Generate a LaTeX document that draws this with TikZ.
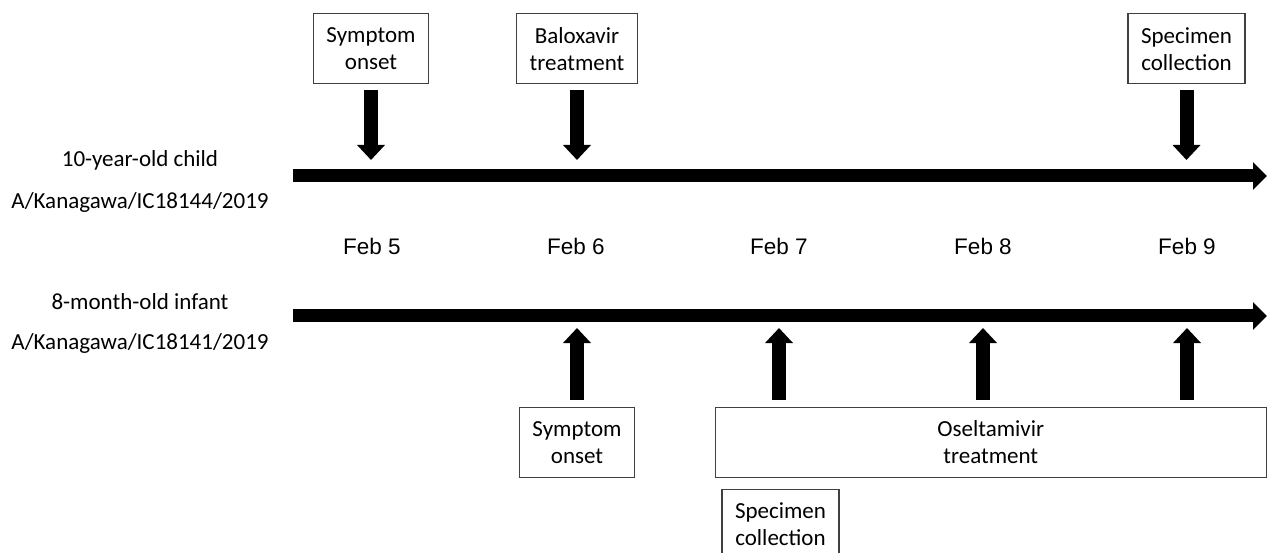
\documentclass[tikz,border=0pt]{standalone}
\usepackage{fontspec}
\setmainfont{Carlito}
\newfontfamily\datefont{Liberation Sans}
\usetikzlibrary{arrows.meta}
\definecolor{boxline}{HTML}{404040}
\begin{document}
\begin{tikzpicture}[x=1pt,y=-1pt,
  evbox/.style={draw=boxline, line width=1.5pt, minimum height=70pt, inner xsep=13pt, inner ysep=4pt, align=center, font=\fontsize{23}{27}\selectfont},
  lbl/.style={font=\fontsize{23}{27}\selectfont, anchor=center},
  datelbl/.style={font=\datefont\fontsize{22.5}{26}\selectfont},
  timeline/.style={line width=13pt, -{Triangle[width=27pt,length=14pt]}},
  evarrow/.style={line width=14pt, -{Triangle[width=27pt,length=15pt]}}
]
\useasboundingbox (0,0) rectangle (1269,553);

% timelines
\coordinate (tA) at (293,176);
\coordinate (tB) at (1267,176);
\coordinate (bA) at (293,316);
\coordinate (bB) at (1267,316);
\draw[timeline] (tA) -- (tB);
\draw[timeline] (bA) -- (bB);

% left labels
\node[lbl] (child) at (140,160) {10-year-old child};
\node[lbl] (strain1) at (140,202) {A/Kanagawa/IC18144/2019};
\node[lbl] (infant) at (140,302) {8-month-old infant};
\node[lbl] (strain2) at (140,343) {A/Kanagawa/IC18141/2019};

% dates
\node[datelbl] (d5) at (372,246) {Feb 5};
\node[datelbl] (d6) at (576,246) {Feb 6};
\node[datelbl] (d7) at (779,246) {Feb 7};
\node[datelbl] (d8) at (983,246) {Feb 8};
\node[datelbl] (d9) at (1187,246) {Feb 9};

% top boxes
\node[evbox, anchor=north] (onset1) at (371,13) {Symptom\\onset};
\node[evbox, anchor=north] (balox) at (577,13) {Baloxavir\\treatment};
\node[evbox, anchor=north] (spec1) at (1186.5,13) {Specimen\\collection};

% bottom boxes
\node[evbox, anchor=north] (onset2) at (577,406.5) {Symptom\\onset};
\node[draw=boxline, line width=1.5pt, anchor=north west, minimum width=551pt, minimum height=70pt, inner sep=0pt] (osel) at (714.5,406.5) {};
\node[lbl, align=center, font=\fontsize{23}{27}\selectfont] (oseltxt) at (osel.center) {Oseltamivir\\treatment};
\begin{scope}
\clip (0,0) rectangle (1269,553);
\node[evbox, anchor=north] (spec2) at (780.5,488.5) {Specimen\\collection};
\end{scope}

% down arrows (child)
\draw[evarrow, shorten <=6pt, shorten >=16pt] (onset1.south) -- (onset1.south |- tA);
\draw[evarrow, shorten <=6pt, shorten >=16pt] (balox.south) -- (balox.south |- tA);
\draw[evarrow, shorten <=6pt, shorten >=16pt] (spec1.south) -- (spec1.south |- tA);

% up arrows (infant)
\draw[evarrow, shorten <=7pt, shorten >=12pt] (onset2.north) -- (onset2.north |- bA);
\coordinate (o7) at (osel.north -| d7);
\coordinate (o8) at (osel.north -| d8);
\coordinate (o9) at (osel.north -| d9);
\draw[evarrow, shorten <=7pt, shorten >=12pt] (o7) -- (o7 |- bA);
\draw[evarrow, shorten <=7pt, shorten >=12pt] (o8) -- (o8 |- bA);
\draw[evarrow, shorten <=7pt, shorten >=12pt] (o9) -- (o9 |- bA);
\end{tikzpicture}
\end{document}
